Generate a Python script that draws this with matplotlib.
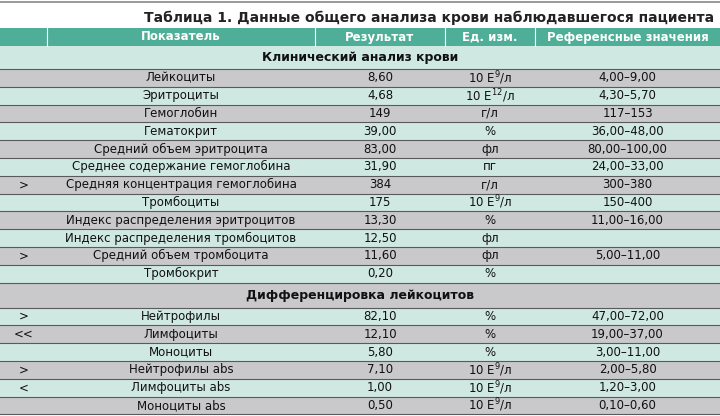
import matplotlib
matplotlib.use("Agg")
import matplotlib.pyplot as plt
from matplotlib.patches import Rectangle

plt.rcParams['font.family'] = ['Liberation Sans Narrow', 'DejaVu Sans']

title = "Таблица 1. Данные общего анализа крови наблюдавшегося пациента"
headers = ["Показатель", "Результат", "Ед. изм.", "Референсные значения"]
section1 = "Клинический анализ крови"
names1 = ["Лейкоциты", "Эритроциты", "Гемоглобин", "Гематокрит", "Средний объем эритроцита",
          "Среднее содержание гемоглобина", "Средняя концентрация гемоглобина", "Тромбоциты",
          "Индекс распределения эритроцитов", "Индекс распределения тромбоцитов",
          "Средний объем тромбоцита", "Тромбокрит"]
flags1 = ["", "", "", "", "", "", ">", "", "", "", ">", ""]
results1 = ["8,60", "4,68", "149", "39,00", "83,00", "31,90", "384", "175", "13,30", "12,50", "11,60", "0,20"]
units1 = ["10 E$^{9}$/л", "10 E$^{12}$/л", "г/л", "%", "фл", "пг", "г/л", "10 E$^{9}$/л", "%", "фл", "фл", "%"]
refs1 = ["4,00–9,00", "4,30–5,70", "117–153", "36,00–48,00", "80,00–100,00", "24,00–33,00",
         "300–380", "150–400", "11,00–16,00", "", "5,00–11,00", ""]
section2 = "Дифференцировка лейкоцитов"
flags2 = [">", "<<", "", ">", "<", ""]
names2 = ["Нейтрофилы", "Лимфоциты", "Моноциты", "Нейтрофилы abs", "Лимфоциты abs", "Моноциты abs"]
results2 = ["82,10", "12,10", "5,80", "7,10", "1,00", "0,50"]
units2 = ["%", "%", "%", "10 E$^{9}$/л", "10 E$^{9}$/л", "10 E$^{9}$/л"]
refs2 = ["47,00–72,00", "19,00–37,00", "3,00–11,00", "2,00–5,80", "1,20–3,00", "0,10–0,60"]

GRAY = "#c9c8ca"
TEAL = "#cfe9e2"
HEAD = "#4fae97"
LINE = "#5a5a5a"

fig = plt.figure(figsize=(7.2, 4.16), dpi=100)
ax = fig.add_axes([0, 0, 1, 1])
ax.set_xlim(0, 720)
ax.set_ylim(416, 0)
ax.axis("off")

cols = [0, 47, 315, 445, 535, 720]
centers = [(cols[i] + cols[i + 1]) / 2 for i in range(5)]

ax.plot([0, 720], [2, 2], color="#888888", lw=1.2)
ax.text(714, 18, title, ha="right", va="center", fontsize=10, weight="bold", color="#222222")

def rect(y0, h, c):
    ax.add_patch(Rectangle((0, y0), 720, h, facecolor=c, edgecolor="none"))

rect(28, 18, HEAD)
for x in cols[1:-1]:
    ax.plot([x, x], [28, 46], color="white", lw=0.8)
for i, h in enumerate(headers):
    ax.text(centers[i + 1], 37, h, ha="center", va="center", fontsize=8.5, weight="bold", color="white")

y = 46
def section(text, c, h):
    global y
    rect(y, h, c)
    ax.text(360, y + h / 2, text, ha="center", va="center", fontsize=9, weight="bold", color="#111111")
    y += h
    ax.plot([0, 720], [y, y], color=LINE, lw=0.8)

def rows(flags, names, res, units, refs, start_gray):
    global y
    h = 17.8
    for k in range(len(names)):
        c = GRAY if (k % 2 == 0) == start_gray else TEAL
        rect(y, h, c)
        cy = y + h / 2
        for txt, cx in zip([flags[k], names[k], res[k], units[k], refs[k]], centers):
            ax.text(cx, cy, txt, ha="center", va="center", fontsize=8.5, color="#111111")
        y += h
        ax.plot([0, 720], [y, y], color=LINE, lw=0.8)

section(section1, TEAL, 23)
rows(flags1, names1, results1, units1, refs1, True)
section(section2, GRAY, 25)
rows(flags2, names2, results2, units2, refs2, False)

fig.savefig("out.png", dpi=100)
